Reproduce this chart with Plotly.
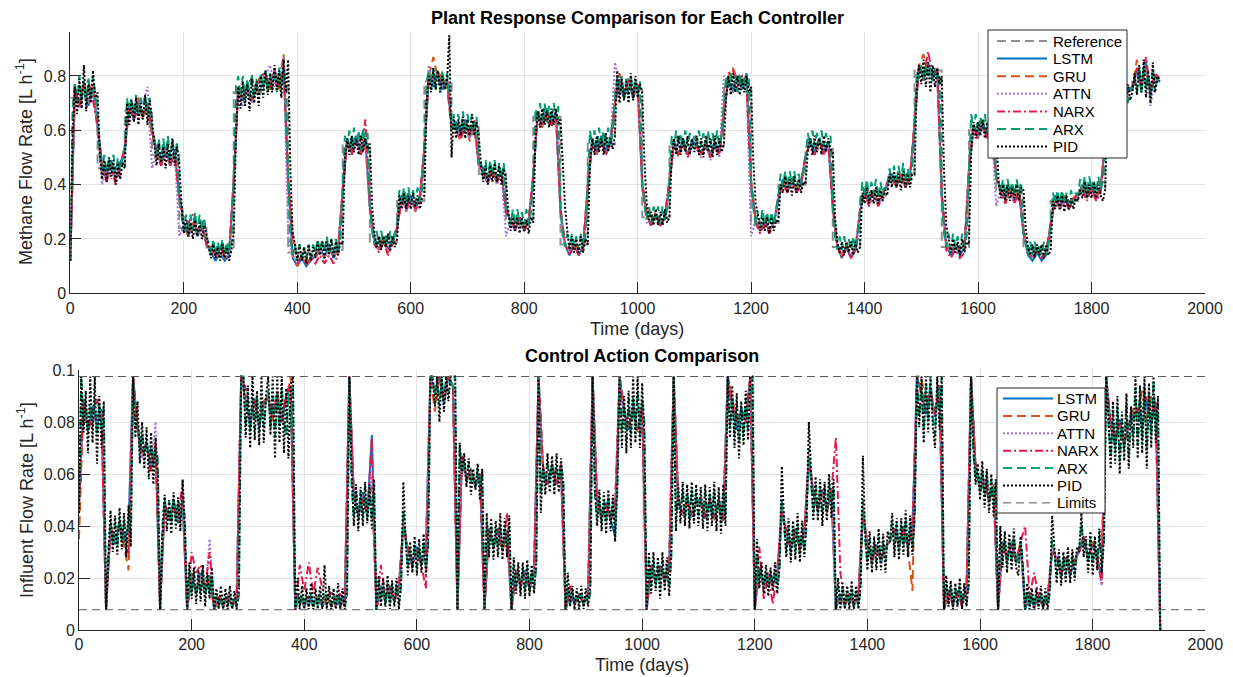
import plotly.graph_objects as go

# ---------------- sampling grids (days) ----------------
days_4 = list(range(0, 1921, 4))
days_8 = list(range(0, 1921, 8))

# ---------------- reference set-point (48-day blocks) ----------------
ref_days = list(range(0, 1921, 48))
ref_levels = [0.72, 0.46, 0.67, 0.51, 0.24, 0.155, 0.74, 0.78, 0.15, 0.16,
              0.55, 0.19, 0.34, 0.78, 0.61, 0.44, 0.26, 0.65, 0.18, 0.55,
              0.75, 0.28, 0.54, 0.54, 0.77, 0.26, 0.40, 0.54, 0.17, 0.36,
              0.42, 0.82, 0.17, 0.60, 0.37, 0.16, 0.34, 0.38, 0.74, 0.78, 0.78]

# ---------------- plant response (methane flow, L/h) ----------------
pid_top = [
    0.12, 0.58, 0.76, 0.66, 0.79, 0.68, 0.84, 0.67, 0.77, 0.70, 0.82, 0.72,
    0.74, 0.52, 0.42, 0.49, 0.41, 0.50, 0.43, 0.49, 0.40, 0.48, 0.42, 0.48,
    0.46, 0.70, 0.62, 0.71, 0.63, 0.72, 0.62, 0.70, 0.64, 0.73, 0.62, 0.71,
    0.64, 0.54, 0.47, 0.55, 0.48, 0.54, 0.46, 0.55, 0.48, 0.57, 0.47, 0.54,
    0.48, 0.33, 0.22, 0.27, 0.21, 0.26, 0.20, 0.27, 0.21, 0.26, 0.20, 0.25,
    0.22, 0.17, 0.13, 0.18, 0.13, 0.17, 0.12, 0.18, 0.13, 0.17, 0.12, 0.16,
    0.22, 0.58, 0.76, 0.68, 0.78, 0.69, 0.77, 0.67, 0.79, 0.70, 0.78, 0.69,
    0.80, 0.72, 0.82, 0.73, 0.81, 0.74, 0.84, 0.75, 0.82, 0.72, 0.86, 0.74,
    0.86, 0.45, 0.22, 0.18, 0.12, 0.18, 0.12, 0.17, 0.11, 0.18, 0.12, 0.17,
    0.13, 0.19, 0.14, 0.19, 0.13, 0.19, 0.14, 0.20, 0.13, 0.19, 0.14, 0.19,
    0.18, 0.50, 0.57, 0.51, 0.58, 0.52, 0.57, 0.51, 0.58, 0.52, 0.57, 0.53,
    0.55, 0.32, 0.22, 0.17, 0.21, 0.16, 0.21, 0.17, 0.22, 0.16, 0.21, 0.17,
    0.20, 0.36, 0.31, 0.37, 0.31, 0.36, 0.31, 0.37, 0.32, 0.36, 0.31, 0.35,
    0.36, 0.70, 0.80, 0.74, 0.83, 0.75, 0.82, 0.74, 0.80, 0.75, 0.78, 0.95,
    0.50, 0.65, 0.57, 0.64, 0.58, 0.65, 0.57, 0.64, 0.58, 0.66, 0.58, 0.63,
    0.58, 0.47, 0.41, 0.47, 0.40, 0.47, 0.41, 0.48, 0.41, 0.47, 0.40, 0.46,
    0.42, 0.30, 0.23, 0.28, 0.23, 0.28, 0.22, 0.28, 0.23, 0.27, 0.22, 0.28,
    0.26, 0.58, 0.67, 0.61, 0.68, 0.62, 0.67, 0.61, 0.68, 0.62, 0.68, 0.62,
    0.64, 0.48, 0.32, 0.23, 0.16, 0.21, 0.15, 0.20, 0.15, 0.21, 0.15, 0.20,
    0.18, 0.48, 0.57, 0.51, 0.58, 0.52, 0.57, 0.51, 0.59, 0.52, 0.57, 0.53,
    0.58, 0.82, 0.70, 0.79, 0.71, 0.78, 0.70, 0.81, 0.71, 0.80, 0.72, 0.77,
    0.74, 0.48, 0.33, 0.27, 0.30, 0.25, 0.31, 0.25, 0.30, 0.25, 0.31, 0.26,
    0.28, 0.50, 0.57, 0.51, 0.58, 0.51, 0.57, 0.52, 0.58, 0.51, 0.57, 0.52,
    0.58, 0.51, 0.57, 0.50, 0.58, 0.52, 0.57, 0.50, 0.58, 0.51, 0.57, 0.52,
    0.55, 0.72, 0.80, 0.73, 0.81, 0.74, 0.80, 0.73, 0.79, 0.74, 0.80, 0.74,
    0.76, 0.48, 0.33, 0.29, 0.23, 0.28, 0.23, 0.28, 0.22, 0.28, 0.23, 0.27,
    0.26, 0.40, 0.37, 0.43, 0.37, 0.42, 0.36, 0.43, 0.37, 0.42, 0.37, 0.41,
    0.40, 0.53, 0.57, 0.51, 0.58, 0.52, 0.57, 0.51, 0.58, 0.52, 0.57, 0.53,
    0.52, 0.28, 0.19, 0.15, 0.19, 0.14, 0.19, 0.15, 0.19, 0.14, 0.19, 0.15,
    0.17, 0.37, 0.33, 0.39, 0.33, 0.38, 0.33, 0.39, 0.33, 0.38, 0.34, 0.38,
    0.36, 0.44, 0.39, 0.45, 0.39, 0.44, 0.38, 0.45, 0.39, 0.44, 0.39, 0.44,
    0.44, 0.76, 0.84, 0.77, 0.86, 0.76, 0.85, 0.74, 0.84, 0.76, 0.83, 0.77,
    0.80, 0.45, 0.25, 0.20, 0.15, 0.20, 0.15, 0.19, 0.14, 0.20, 0.15, 0.19,
    0.18, 0.52, 0.63, 0.57, 0.63, 0.58, 0.64, 0.57, 0.63, 0.58, 0.62, 0.58,
    0.60, 0.42, 0.35, 0.40, 0.34, 0.40, 0.34, 0.39, 0.35, 0.40, 0.34, 0.39,
    0.38, 0.24, 0.17, 0.14, 0.18, 0.13, 0.18, 0.14, 0.18, 0.13, 0.18, 0.14,
    0.16, 0.34, 0.31, 0.36, 0.31, 0.36, 0.30, 0.36, 0.31, 0.35, 0.31, 0.35,
    0.34, 0.38, 0.35, 0.41, 0.35, 0.40, 0.35, 0.41, 0.35, 0.40, 0.36, 0.34,
    0.38, 0.66, 0.76, 0.70, 0.77, 0.69, 0.78, 0.70, 0.76, 0.69, 0.77, 0.71,
    0.74, 0.81, 0.73, 0.84, 0.74, 0.86, 0.72, 0.82, 0.70, 0.85, 0.74, 0.80,
    0.78]

arx_top = [
    0.12, 0.68, 0.78, 0.70, 0.80, 0.71, 0.78, 0.69, 0.79, 0.71, 0.80, 0.72,
    0.66, 0.50, 0.45, 0.51, 0.44, 0.50, 0.45, 0.51, 0.44, 0.50, 0.45, 0.50,
    0.54, 0.72, 0.65, 0.72, 0.66, 0.73, 0.65, 0.72, 0.66, 0.73, 0.66, 0.72,
    0.60, 0.57, 0.50, 0.57, 0.49, 0.57, 0.50, 0.58, 0.50, 0.57, 0.49, 0.56,
    0.36, 0.29, 0.23, 0.29, 0.22, 0.29, 0.23, 0.30, 0.22, 0.29, 0.23, 0.28,
    0.20, 0.19, 0.14, 0.20, 0.14, 0.19, 0.15, 0.20, 0.14, 0.19, 0.15, 0.19,
    0.42, 0.76, 0.80, 0.72, 0.80, 0.71, 0.79, 0.72, 0.81, 0.72, 0.79, 0.73,
    0.81, 0.75, 0.82, 0.74, 0.81, 0.75, 0.82, 0.74, 0.83, 0.75, 0.82, 0.76,
    0.42, 0.20, 0.14, 0.18, 0.12, 0.18, 0.13, 0.17, 0.12, 0.18, 0.13, 0.18,
    0.15, 0.20, 0.15, 0.20, 0.15, 0.21, 0.15, 0.20, 0.15, 0.20, 0.15, 0.20,
    0.38, 0.58, 0.54, 0.60, 0.53, 0.61, 0.54, 0.60, 0.53, 0.61, 0.54, 0.59,
    0.32, 0.23, 0.18, 0.23, 0.18, 0.23, 0.18, 0.22, 0.18, 0.23, 0.18, 0.22,
    0.26, 0.38, 0.33, 0.39, 0.33, 0.39, 0.33, 0.38, 0.33, 0.39, 0.34, 0.38,
    0.55, 0.78, 0.82, 0.75, 0.83, 0.75, 0.82, 0.74, 0.82, 0.75, 0.81, 0.75,
    0.60, 0.66, 0.59, 0.66, 0.59, 0.67, 0.59, 0.66, 0.60, 0.66, 0.59, 0.65,
    0.48, 0.48, 0.42, 0.49, 0.42, 0.49, 0.43, 0.49, 0.42, 0.48, 0.42, 0.48,
    0.32, 0.30, 0.25, 0.31, 0.25, 0.31, 0.25, 0.30, 0.25, 0.31, 0.25, 0.30,
    0.44, 0.68, 0.63, 0.70, 0.63, 0.70, 0.63, 0.69, 0.63, 0.70, 0.64, 0.69,
    0.32, 0.21, 0.17, 0.22, 0.16, 0.22, 0.17, 0.21, 0.16, 0.22, 0.17, 0.21,
    0.40, 0.60, 0.54, 0.60, 0.53, 0.61, 0.54, 0.60, 0.54, 0.61, 0.54, 0.59,
    0.72, 0.80, 0.73, 0.80, 0.72, 0.79, 0.73, 0.80, 0.72, 0.79, 0.73, 0.78,
    0.42, 0.32, 0.27, 0.32, 0.26, 0.32, 0.27, 0.32, 0.26, 0.32, 0.27, 0.31,
    0.42, 0.58, 0.54, 0.60, 0.54, 0.59, 0.53, 0.60, 0.54, 0.59, 0.54, 0.58,
    0.54, 0.60, 0.54, 0.59, 0.53, 0.60, 0.54, 0.59, 0.53, 0.60, 0.54, 0.59,
    0.70, 0.80, 0.75, 0.81, 0.75, 0.80, 0.74, 0.81, 0.75, 0.80, 0.74, 0.79,
    0.42, 0.31, 0.25, 0.30, 0.25, 0.31, 0.25, 0.30, 0.25, 0.30, 0.25, 0.30,
    0.36, 0.44, 0.39, 0.45, 0.39, 0.45, 0.40, 0.45, 0.39, 0.44, 0.39, 0.44,
    0.50, 0.59, 0.54, 0.60, 0.54, 0.59, 0.55, 0.60, 0.54, 0.59, 0.54, 0.58,
    0.30, 0.21, 0.16, 0.21, 0.16, 0.21, 0.16, 0.20, 0.16, 0.21, 0.16, 0.20,
    0.30, 0.41, 0.36, 0.42, 0.35, 0.41, 0.36, 0.42, 0.35, 0.41, 0.36, 0.40,
    0.40, 0.46, 0.41, 0.47, 0.40, 0.47, 0.41, 0.48, 0.41, 0.46, 0.41, 0.46,
    0.62, 0.82, 0.79, 0.84, 0.78, 0.84, 0.79, 0.83, 0.78, 0.83, 0.79, 0.81,
    0.36, 0.22, 0.17, 0.22, 0.16, 0.22, 0.17, 0.21, 0.16, 0.22, 0.17, 0.21,
    0.46, 0.66, 0.60, 0.66, 0.59, 0.65, 0.60, 0.66, 0.59, 0.65, 0.60, 0.64,
    0.42, 0.41, 0.37, 0.42, 0.36, 0.42, 0.37, 0.41, 0.36, 0.42, 0.37, 0.41,
    0.22, 0.19, 0.14, 0.19, 0.14, 0.19, 0.14, 0.18, 0.14, 0.19, 0.14, 0.18,
    0.26, 0.37, 0.33, 0.38, 0.33, 0.38, 0.33, 0.37, 0.33, 0.38, 0.33, 0.37,
    0.36, 0.42, 0.37, 0.43, 0.37, 0.43, 0.38, 0.42, 0.37, 0.43, 0.38, 0.41,
    0.55, 0.74, 0.70, 0.76, 0.70, 0.76, 0.70, 0.75, 0.69, 0.76, 0.70, 0.75,
    0.75, 0.79, 0.74, 0.83, 0.73, 0.84, 0.75, 0.81, 0.72, 0.83, 0.74, 0.79,
    0.77]

lstm_top = [
    0.12, 0.75, 0.70, 0.77, 0.69, 0.76,  0.62, 0.48, 0.43, 0.49, 0.42, 0.48,
    0.52, 0.70, 0.64, 0.71, 0.65, 0.70,  0.60, 0.53, 0.48, 0.54, 0.47, 0.53,
    0.36, 0.26, 0.21, 0.26, 0.21, 0.25,  0.18, 0.15, 0.12, 0.15, 0.12, 0.14,
    0.40, 0.76, 0.71, 0.77, 0.71, 0.76,  0.80, 0.81, 0.75, 0.82, 0.76, 0.83,
    0.42, 0.13, 0.10, 0.13, 0.10, 0.12,  0.14, 0.17, 0.13, 0.18, 0.13, 0.17,
    0.36, 0.57, 0.52, 0.58, 0.52, 0.57,  0.32, 0.20, 0.16, 0.21, 0.16, 0.20,
    0.24, 0.36, 0.32, 0.36, 0.31, 0.36,  0.52, 0.80, 0.76, 0.81, 0.75, 0.79,
    0.62, 0.63, 0.58, 0.64, 0.58, 0.63,  0.48, 0.46, 0.41, 0.46, 0.41, 0.45,
    0.30, 0.27, 0.23, 0.28, 0.23, 0.27,  0.42, 0.67, 0.62, 0.68, 0.62, 0.67,
    0.30, 0.18, 0.14, 0.18, 0.14, 0.17,  0.38, 0.57, 0.52, 0.58, 0.52, 0.57,
    0.70, 0.78, 0.72, 0.79, 0.72, 0.77,  0.40, 0.29, 0.25, 0.29, 0.25, 0.28,
    0.40, 0.56, 0.51, 0.57, 0.51, 0.56,  0.55, 0.51, 0.56, 0.51, 0.56, 0.52,
    0.66, 0.79, 0.74, 0.80, 0.75, 0.81,  0.40, 0.27, 0.23, 0.27, 0.23, 0.26,
    0.34, 0.42, 0.38, 0.42, 0.37, 0.41,  0.50, 0.56, 0.52, 0.57, 0.52, 0.56,
    0.32, 0.17, 0.13, 0.17, 0.13, 0.16,  0.30, 0.38, 0.34, 0.38, 0.33, 0.37,
    0.40, 0.44, 0.40, 0.44, 0.39, 0.43,  0.62, 0.84, 0.79, 0.85, 0.79, 0.82,
    0.36, 0.18, 0.14, 0.18, 0.14, 0.17,  0.45, 0.62, 0.58, 0.63, 0.58, 0.62,
    0.42, 0.39, 0.35, 0.39, 0.34, 0.38,  0.22, 0.14, 0.12, 0.15, 0.12, 0.14,
    0.24, 0.36, 0.32, 0.36, 0.31, 0.35,  0.36, 0.40, 0.36, 0.40, 0.35, 0.39,
    0.55, 0.75, 0.71, 0.76, 0.71, 0.75,  0.76, 0.82, 0.75, 0.85, 0.73, 0.80,
    0.78]

gru_top = [
    0.12, 0.74, 0.69, 0.78, 0.70, 0.77,  0.60, 0.47, 0.41, 0.48, 0.42, 0.47,
    0.54, 0.69, 0.65, 0.72, 0.64, 0.69,  0.58, 0.52, 0.47, 0.53, 0.47, 0.52,
    0.34, 0.25, 0.21, 0.26, 0.21, 0.25,  0.18, 0.16, 0.13, 0.16, 0.13, 0.15,
    0.42, 0.76, 0.71, 0.78, 0.70, 0.77,  0.80, 0.79, 0.75, 0.81, 0.75, 0.88,
    0.44, 0.14, 0.10, 0.14, 0.10, 0.13,  0.13, 0.16, 0.13, 0.17, 0.13, 0.16,
    0.38, 0.55, 0.51, 0.56, 0.51, 0.55,  0.32, 0.19, 0.16, 0.20, 0.15, 0.19,
    0.24, 0.34, 0.30, 0.35, 0.30, 0.34,  0.54, 0.80, 0.87, 0.79, 0.81, 0.76,
    0.60, 0.60, 0.56, 0.63, 0.56, 0.61,  0.47, 0.45, 0.41, 0.46, 0.41, 0.45,
    0.31, 0.27, 0.23, 0.28, 0.23, 0.27,  0.44, 0.66, 0.61, 0.67, 0.61, 0.66,
    0.31, 0.18, 0.15, 0.19, 0.15, 0.18,  0.40, 0.55, 0.51, 0.56, 0.51, 0.55,
    0.70, 0.81, 0.73, 0.79, 0.72, 0.77,  0.41, 0.29, 0.25, 0.30, 0.25, 0.28,
    0.42, 0.55, 0.50, 0.56, 0.51, 0.54,  0.54, 0.50, 0.55, 0.50, 0.55, 0.51,
    0.66, 0.80, 0.83, 0.78, 0.80, 0.76,  0.41, 0.27, 0.23, 0.27, 0.23, 0.26,
    0.36, 0.41, 0.37, 0.42, 0.37, 0.41,  0.51, 0.55, 0.51, 0.56, 0.51, 0.55,
    0.32, 0.18, 0.14, 0.18, 0.14, 0.17,  0.31, 0.37, 0.33, 0.38, 0.33, 0.37,
    0.41, 0.43, 0.39, 0.44, 0.39, 0.43,  0.63, 0.84, 0.88, 0.80, 0.83, 0.80,
    0.37, 0.18, 0.15, 0.19, 0.15, 0.18,  0.46, 0.61, 0.57, 0.62, 0.57, 0.61,
    0.43, 0.38, 0.34, 0.39, 0.34, 0.38,  0.23, 0.15, 0.13, 0.16, 0.13, 0.15,
    0.26, 0.35, 0.31, 0.36, 0.31, 0.35,  0.37, 0.39, 0.35, 0.40, 0.35, 0.39,
    0.56, 0.74, 0.70, 0.77, 0.71, 0.74,  0.75, 0.86, 0.76, 0.83, 0.74, 0.81,
    0.79]

attn_top = [
    0.12, 0.72, 0.68, 0.76, 0.70, 0.75,  0.60, 0.40, 0.46, 0.42, 0.47, 0.43,
    0.52, 0.69, 0.65, 0.71, 0.70, 0.76,  0.46, 0.52, 0.47, 0.53, 0.47, 0.52,
    0.21, 0.25, 0.21, 0.25, 0.21, 0.24,  0.18, 0.16, 0.13, 0.16, 0.13, 0.15,
    0.42, 0.74, 0.69, 0.75, 0.70, 0.75,  0.79, 0.80, 0.84, 0.76, 0.81, 0.87,
    0.20, 0.14, 0.11, 0.14, 0.11, 0.13,  0.14, 0.17, 0.13, 0.17, 0.14, 0.16,
    0.38, 0.56, 0.51, 0.57, 0.51, 0.56,  0.31, 0.18, 0.16, 0.19, 0.16, 0.18,
    0.24, 0.35, 0.30, 0.35, 0.30, 0.34,  0.54, 0.84, 0.77, 0.81, 0.76, 0.79,
    0.61, 0.62, 0.57, 0.62, 0.57, 0.61,  0.47, 0.44, 0.40, 0.45, 0.40, 0.44,
    0.21, 0.27, 0.23, 0.27, 0.23, 0.26,  0.44, 0.66, 0.62, 0.66, 0.62, 0.65,
    0.30, 0.18, 0.15, 0.18, 0.15, 0.17,  0.40, 0.56, 0.51, 0.56, 0.51, 0.55,
    0.85, 0.77, 0.72, 0.78, 0.72, 0.76,  0.40, 0.26, 0.25, 0.28, 0.25, 0.27,
    0.41, 0.55, 0.51, 0.56, 0.51, 0.54,  0.53, 0.50, 0.55, 0.49, 0.55, 0.50,
    0.80, 0.78, 0.74, 0.79, 0.75, 0.77,  0.21, 0.27, 0.23, 0.27, 0.23, 0.26,
    0.35, 0.41, 0.37, 0.42, 0.37, 0.40,  0.50, 0.55, 0.51, 0.56, 0.51, 0.55,
    0.30, 0.17, 0.14, 0.17, 0.14, 0.17,  0.30, 0.37, 0.33, 0.37, 0.32, 0.36,
    0.40, 0.42, 0.39, 0.43, 0.39, 0.42,  0.62, 0.83, 0.79, 0.84, 0.79, 0.82,
    0.35, 0.18, 0.15, 0.18, 0.15, 0.17,  0.45, 0.61, 0.57, 0.62, 0.57, 0.60,
    0.32, 0.38, 0.34, 0.38, 0.33, 0.37,  0.22, 0.15, 0.13, 0.16, 0.13, 0.15,
    0.25, 0.35, 0.31, 0.33, 0.31, 0.34,  0.36, 0.39, 0.35, 0.39, 0.34, 0.37,
    0.55, 0.74, 0.71, 0.75, 0.70, 0.74,  0.75, 0.81, 0.75, 0.83, 0.69, 0.79,
    0.77]

narx_top = [
    0.12, 0.76, 0.69, 0.77, 0.78, 0.71,  0.62, 0.46, 0.41, 0.47, 0.40, 0.46,
    0.54, 0.68, 0.64, 0.69, 0.65, 0.69,  0.60, 0.51, 0.47, 0.52, 0.47, 0.51,
    0.36, 0.28, 0.26, 0.29, 0.22, 0.27,  0.18, 0.17, 0.14, 0.17, 0.14, 0.16,
    0.42, 0.76, 0.72, 0.77, 0.79, 0.74,  0.80, 0.81, 0.76, 0.82, 0.76, 0.83,
    0.42, 0.22, 0.11, 0.14, 0.11, 0.13,  0.11, 0.14, 0.11, 0.14, 0.11, 0.14,
    0.38, 0.56, 0.51, 0.57, 0.51, 0.64,  0.32, 0.18, 0.15, 0.19, 0.14, 0.18,
    0.24, 0.35, 0.31, 0.35, 0.31, 0.34,  0.54, 0.81, 0.77, 0.82, 0.77, 0.79,
    0.61, 0.61, 0.57, 0.62, 0.58, 0.64,  0.47, 0.45, 0.41, 0.45, 0.41, 0.44,
    0.30, 0.28, 0.24, 0.28, 0.23, 0.27,  0.44, 0.67, 0.62, 0.67, 0.62, 0.66,
    0.31, 0.18, 0.14, 0.18, 0.14, 0.17,  0.40, 0.55, 0.52, 0.56, 0.51, 0.55,
    0.70, 0.79, 0.73, 0.79, 0.73, 0.77,  0.41, 0.28, 0.25, 0.29, 0.25, 0.28,
    0.42, 0.54, 0.51, 0.55, 0.50, 0.54,  0.54, 0.51, 0.55, 0.50, 0.54, 0.51,
    0.66, 0.81, 0.82, 0.76, 0.80, 0.76,  0.41, 0.26, 0.22, 0.26, 0.22, 0.25,
    0.36, 0.41, 0.37, 0.42, 0.37, 0.40,  0.51, 0.55, 0.51, 0.56, 0.51, 0.55,
    0.32, 0.17, 0.13, 0.17, 0.13, 0.16,  0.31, 0.37, 0.32, 0.37, 0.32, 0.36,
    0.41, 0.43, 0.39, 0.44, 0.39, 0.42,  0.63, 0.84, 0.80, 0.89, 0.80, 0.83,
    0.37, 0.16, 0.13, 0.16, 0.13, 0.15,  0.46, 0.62, 0.57, 0.63, 0.57, 0.61,
    0.43, 0.37, 0.33, 0.38, 0.33, 0.37,  0.23, 0.16, 0.13, 0.16, 0.13, 0.15,
    0.26, 0.35, 0.31, 0.36, 0.31, 0.34,  0.37, 0.38, 0.34, 0.39, 0.34, 0.37,
    0.56, 0.75, 0.71, 0.76, 0.71, 0.74,  0.76, 0.83, 0.76, 0.87, 0.74, 0.81,
    0.79]

# ---------------- control action (influent flow, L/h) ----------------
limit_upper = 0.0975
limit_lower = 0.0078

pid_bot = [
    0.045, 0.0975, 0.076, 0.092, 0.068, 0.0975, 0.072, 0.0975, 0.064, 0.090, 0.070, 0.088,
    0.0078, 0.028, 0.046, 0.030, 0.044, 0.029, 0.047, 0.031, 0.045, 0.028, 0.048, 0.032,
    0.0975, 0.074, 0.088, 0.064, 0.080, 0.062, 0.078, 0.058, 0.076, 0.056, 0.074, 0.060,
    0.0078, 0.036, 0.052, 0.038, 0.050, 0.037, 0.053, 0.039, 0.051, 0.038, 0.058, 0.040,
    0.0078, 0.026, 0.012, 0.024, 0.010, 0.023, 0.011, 0.025, 0.009, 0.022, 0.012, 0.024,
    0.0078, 0.016, 0.008, 0.017, 0.008, 0.016, 0.008, 0.017, 0.008, 0.015, 0.008, 0.016,
    0.0975, 0.0975, 0.074, 0.094, 0.070, 0.0975, 0.073, 0.092, 0.071, 0.0975, 0.072, 0.090,
    0.0975, 0.075, 0.0975, 0.066, 0.0975, 0.072, 0.0975, 0.068, 0.093, 0.066, 0.094, 0.0975,
    0.0078, 0.020, 0.008, 0.017, 0.008, 0.016, 0.008, 0.018, 0.008, 0.016, 0.008, 0.017,
    0.008, 0.025, 0.008, 0.017, 0.008, 0.016, 0.008, 0.018, 0.008, 0.016, 0.008, 0.015,
    0.0975, 0.062, 0.040, 0.056, 0.038, 0.055, 0.040, 0.057, 0.041, 0.056, 0.039, 0.058,
    0.0078, 0.021, 0.009, 0.020, 0.009, 0.021, 0.008, 0.019, 0.009, 0.020, 0.008, 0.018,
    0.057, 0.035, 0.021, 0.034, 0.022, 0.036, 0.021, 0.035, 0.022, 0.037, 0.021, 0.034,
    0.0975, 0.0975, 0.086, 0.0975, 0.080, 0.0975, 0.084, 0.0975, 0.088, 0.0975, 0.0975, 0.0975,
    0.0078, 0.072, 0.060, 0.068, 0.055, 0.066, 0.052, 0.062, 0.054, 0.064, 0.050, 0.062,
    0.0078, 0.045, 0.028, 0.043, 0.027, 0.042, 0.028, 0.045, 0.027, 0.043, 0.028, 0.044,
    0.0078, 0.028, 0.014, 0.026, 0.013, 0.026, 0.012, 0.027, 0.013, 0.025, 0.014, 0.026,
    0.0975, 0.045, 0.064, 0.052, 0.068, 0.053, 0.067, 0.052, 0.068, 0.053, 0.066, 0.055,
    0.0078, 0.022, 0.009, 0.017, 0.008, 0.016, 0.008, 0.017, 0.008, 0.016, 0.009, 0.017,
    0.0975, 0.055, 0.040, 0.054, 0.038, 0.053, 0.037, 0.054, 0.038, 0.052, 0.034, 0.056,
    0.0975, 0.070, 0.090, 0.068, 0.092, 0.070, 0.0975, 0.072, 0.0975, 0.070, 0.095, 0.075,
    0.0078, 0.030, 0.014, 0.030, 0.015, 0.028, 0.012, 0.030, 0.015, 0.028, 0.013, 0.032,
    0.0975, 0.038, 0.056, 0.041, 0.057, 0.040, 0.056, 0.039, 0.057, 0.041, 0.056, 0.040,
    0.055, 0.039, 0.056, 0.038, 0.055, 0.040, 0.057, 0.038, 0.055, 0.037, 0.056, 0.040,
    0.0975, 0.074, 0.094, 0.070, 0.091, 0.066, 0.088, 0.071, 0.092, 0.073, 0.0975, 0.0975,
    0.0078, 0.035, 0.016, 0.026, 0.014, 0.025, 0.013, 0.024, 0.015, 0.026, 0.014, 0.025,
    0.063, 0.042, 0.028, 0.043, 0.026, 0.042, 0.027, 0.045, 0.026, 0.042, 0.028, 0.043,
    0.080, 0.058, 0.042, 0.059, 0.042, 0.058, 0.040, 0.057, 0.042, 0.060, 0.043, 0.058,
    0.0078, 0.020, 0.008, 0.018, 0.008, 0.017, 0.008, 0.019, 0.008, 0.017, 0.008, 0.018,
    0.067, 0.037, 0.023, 0.038, 0.022, 0.036, 0.023, 0.039, 0.023, 0.037, 0.022, 0.038,
    0.034, 0.045, 0.028, 0.043, 0.027, 0.043, 0.029, 0.046, 0.028, 0.044, 0.029, 0.046,
    0.0975, 0.078, 0.0975, 0.072, 0.0975, 0.076, 0.0975, 0.079, 0.070, 0.0975, 0.077, 0.0975,
    0.0078, 0.021, 0.009, 0.019, 0.008, 0.018, 0.009, 0.020, 0.008, 0.018, 0.009, 0.019,
    0.0975, 0.072, 0.056, 0.064, 0.050, 0.065, 0.047, 0.062, 0.045, 0.060, 0.044, 0.058,
    0.0078, 0.040, 0.024, 0.038, 0.022, 0.037, 0.023, 0.039, 0.024, 0.021, 0.036, 0.024,
    0.0078, 0.018, 0.008, 0.016, 0.008, 0.016, 0.008, 0.017, 0.008, 0.016, 0.008, 0.016,
    0.044, 0.032, 0.018, 0.031, 0.017, 0.030, 0.018, 0.032, 0.018, 0.031, 0.019, 0.032,
    0.030, 0.045, 0.028, 0.036, 0.022, 0.038, 0.021, 0.036, 0.023, 0.039, 0.022, 0.035,
    0.0975, 0.082, 0.062, 0.088, 0.064, 0.090, 0.060, 0.084, 0.065, 0.091, 0.062, 0.086,
    0.070, 0.0975, 0.066, 0.094, 0.068, 0.0975, 0.062, 0.095, 0.070, 0.0975, 0.072, 0.090,
    0.0]

arx_bot = [
    0.045, 0.0975, 0.080, 0.088, 0.076, 0.086, 0.078, 0.089, 0.075, 0.087, 0.077, 0.085,
    0.0078, 0.031, 0.042, 0.033, 0.041, 0.032, 0.043, 0.034, 0.042, 0.032, 0.044, 0.035,
    0.0975, 0.078, 0.080, 0.069, 0.076, 0.067, 0.073, 0.064, 0.071, 0.063, 0.070, 0.066,
    0.0078, 0.040, 0.051, 0.042, 0.050, 0.041, 0.051, 0.042, 0.050, 0.041, 0.050, 0.043,
    0.0078, 0.023, 0.014, 0.022, 0.013, 0.021, 0.014, 0.022, 0.013, 0.021, 0.014, 0.021,
    0.0078, 0.013, 0.009, 0.013, 0.009, 0.013, 0.009, 0.014, 0.009, 0.013, 0.009, 0.013,
    0.0975, 0.0975, 0.078, 0.090, 0.076, 0.089, 0.077, 0.090, 0.076, 0.088, 0.078, 0.088,
    0.092, 0.077, 0.090, 0.074, 0.091, 0.078, 0.093, 0.080, 0.075, 0.091, 0.077, 0.094,
    0.0078, 0.014, 0.009, 0.014, 0.009, 0.013, 0.009, 0.014, 0.009, 0.013, 0.009, 0.014,
    0.009, 0.014, 0.009, 0.014, 0.009, 0.013, 0.009, 0.014, 0.009, 0.013, 0.009, 0.013,
    0.0975, 0.056, 0.043, 0.054, 0.042, 0.053, 0.043, 0.055, 0.043, 0.054, 0.042, 0.056,
    0.0078, 0.018, 0.011, 0.017, 0.010, 0.018, 0.010, 0.017, 0.011, 0.018, 0.010, 0.017,
    0.046, 0.033, 0.024, 0.032, 0.024, 0.033, 0.024, 0.032, 0.025, 0.034, 0.024, 0.032,
    0.0975, 0.0975, 0.090, 0.0975, 0.086, 0.0975, 0.088, 0.0975, 0.091, 0.0975, 0.093, 0.0975,
    0.0078, 0.070, 0.062, 0.066, 0.058, 0.064, 0.056, 0.060, 0.056, 0.062, 0.055, 0.061,
    0.0078, 0.041, 0.032, 0.040, 0.031, 0.039, 0.031, 0.041, 0.030, 0.039, 0.032, 0.040,
    0.0078, 0.025, 0.016, 0.024, 0.015, 0.024, 0.015, 0.025, 0.015, 0.023, 0.016, 0.024,
    0.0975, 0.052, 0.062, 0.056, 0.064, 0.057, 0.064, 0.056, 0.063, 0.057, 0.063, 0.058,
    0.0078, 0.017, 0.010, 0.015, 0.010, 0.014, 0.010, 0.014, 0.010, 0.014, 0.010, 0.014,
    0.0975, 0.052, 0.043, 0.051, 0.041, 0.050, 0.041, 0.052, 0.042, 0.050, 0.040, 0.053,
    0.0975, 0.076, 0.087, 0.073, 0.089, 0.075, 0.090, 0.077, 0.092, 0.075, 0.089, 0.080,
    0.0078, 0.027, 0.017, 0.027, 0.017, 0.025, 0.016, 0.027, 0.018, 0.025, 0.016, 0.028,
    0.0975, 0.042, 0.053, 0.044, 0.054, 0.043, 0.053, 0.042, 0.054, 0.044, 0.053, 0.044,
    0.052, 0.043, 0.053, 0.042, 0.052, 0.043, 0.054, 0.042, 0.052, 0.041, 0.053, 0.044,
    0.0975, 0.078, 0.090, 0.075, 0.088, 0.072, 0.086, 0.075, 0.089, 0.077, 0.092, 0.0975,
    0.0078, 0.029, 0.019, 0.023, 0.017, 0.023, 0.017, 0.022, 0.018, 0.023, 0.017, 0.023,
    0.050, 0.040, 0.030, 0.040, 0.029, 0.039, 0.030, 0.041, 0.029, 0.039, 0.030, 0.040,
    0.070, 0.056, 0.045, 0.056, 0.045, 0.055, 0.044, 0.055, 0.045, 0.057, 0.046, 0.055,
    0.0078, 0.017, 0.009, 0.016, 0.009, 0.015, 0.009, 0.016, 0.009, 0.015, 0.009, 0.016,
    0.050, 0.035, 0.026, 0.035, 0.025, 0.034, 0.026, 0.036, 0.026, 0.034, 0.026, 0.035,
    0.034, 0.042, 0.031, 0.041, 0.030, 0.040, 0.032, 0.043, 0.031, 0.041, 0.032, 0.042,
    0.0975, 0.082, 0.093, 0.077, 0.095, 0.080, 0.0975, 0.082, 0.075, 0.094, 0.081, 0.0975,
    0.0078, 0.018, 0.010, 0.017, 0.010, 0.016, 0.010, 0.017, 0.010, 0.016, 0.010, 0.017,
    0.0975, 0.068, 0.058, 0.062, 0.053, 0.062, 0.051, 0.060, 0.049, 0.058, 0.048, 0.057,
    0.0078, 0.037, 0.027, 0.035, 0.025, 0.034, 0.026, 0.036, 0.027, 0.025, 0.034, 0.027,
    0.0078, 0.015, 0.009, 0.014, 0.009, 0.014, 0.009, 0.015, 0.009, 0.014, 0.009, 0.014,
    0.035, 0.030, 0.021, 0.029, 0.020, 0.028, 0.021, 0.029, 0.021, 0.029, 0.021, 0.029,
    0.031, 0.041, 0.031, 0.034, 0.026, 0.036, 0.025, 0.034, 0.027, 0.036, 0.025, 0.033,
    0.0975, 0.079, 0.066, 0.084, 0.068, 0.086, 0.065, 0.081, 0.069, 0.087, 0.066, 0.083,
    0.074, 0.093, 0.071, 0.090, 0.073, 0.094, 0.069, 0.091, 0.074, 0.096, 0.077, 0.087,
    0.0]

lstm_bot = [
    0.050, 0.088, 0.077, 0.086, 0.079, 0.085,  0.0078, 0.040, 0.033, 0.041, 0.034, 0.040,
    0.0975, 0.078, 0.068, 0.072, 0.063, 0.070,  0.0078, 0.049, 0.042, 0.050, 0.041, 0.049,
    0.0078, 0.021, 0.015, 0.022, 0.014, 0.021,  0.0078, 0.012, 0.009, 0.013, 0.009, 0.012,
    0.0975, 0.088, 0.079, 0.089, 0.078, 0.087,  0.089, 0.081, 0.091, 0.080, 0.090, 0.093,
    0.0078, 0.013, 0.009, 0.013, 0.009, 0.013,  0.009, 0.013, 0.009, 0.013, 0.009, 0.013,
    0.0975, 0.052, 0.044, 0.053, 0.044, 0.075,  0.0078, 0.017, 0.011, 0.017, 0.011, 0.016,
    0.040, 0.031, 0.025, 0.032, 0.025, 0.031,  0.0975, 0.092, 0.0975, 0.087, 0.0975, 0.094,
    0.0078, 0.067, 0.058, 0.062, 0.055, 0.060,  0.0078, 0.039, 0.032, 0.039, 0.031, 0.038,
    0.0078, 0.023, 0.017, 0.023, 0.016, 0.022,  0.0975, 0.062, 0.056, 0.062, 0.056, 0.061,
    0.0078, 0.014, 0.010, 0.014, 0.010, 0.013,  0.0975, 0.050, 0.043, 0.049, 0.043, 0.036,
    0.0975, 0.084, 0.077, 0.086, 0.077, 0.086,  0.0078, 0.024, 0.019, 0.024, 0.019, 0.023,
    0.0975, 0.050, 0.044, 0.051, 0.044, 0.050,  0.050, 0.043, 0.051, 0.043, 0.050, 0.044,
    0.0975, 0.086, 0.077, 0.085, 0.081, 0.0975,  0.0078, 0.024, 0.017, 0.022, 0.017, 0.022,
    0.045, 0.038, 0.031, 0.039, 0.031, 0.038,  0.065, 0.053, 0.046, 0.054, 0.046, 0.053,
    0.0078, 0.014, 0.010, 0.014, 0.010, 0.013,  0.045, 0.033, 0.027, 0.033, 0.026, 0.032,
    0.034, 0.039, 0.032, 0.040, 0.032, 0.039,  0.0975, 0.091, 0.083, 0.093, 0.082, 0.094,
    0.0078, 0.015, 0.010, 0.015, 0.010, 0.015,  0.0975, 0.063, 0.054, 0.058, 0.050, 0.055,
    0.0078, 0.034, 0.027, 0.034, 0.026, 0.033,  0.0078, 0.013, 0.009, 0.012, 0.009, 0.012,
    0.030, 0.028, 0.021, 0.028, 0.021, 0.027,  0.030, 0.036, 0.028, 0.033, 0.028, 0.020,
    0.0975, 0.078, 0.071, 0.081, 0.071, 0.079,  0.082, 0.084, 0.078, 0.088, 0.079, 0.087,
    0.0]

gru_bot = [
    0.035, 0.087, 0.078, 0.081, 0.082, 0.084,  0.0078, 0.040, 0.034, 0.042, 0.032, 0.023,
    0.0975, 0.079, 0.067, 0.071, 0.062, 0.072,  0.0078, 0.048, 0.042, 0.048, 0.042, 0.050,
    0.0078, 0.022, 0.014, 0.021, 0.014, 0.021,  0.0078, 0.013, 0.009, 0.013, 0.009, 0.013,
    0.0975, 0.087, 0.080, 0.088, 0.079, 0.088,  0.090, 0.080, 0.092, 0.081, 0.089, 0.0975,
    0.0078, 0.013, 0.009, 0.013, 0.009, 0.013,  0.009, 0.013, 0.009, 0.013, 0.009, 0.013,
    0.0975, 0.051, 0.045, 0.050, 0.045, 0.055,  0.0078, 0.016, 0.011, 0.016, 0.011, 0.016,
    0.042, 0.031, 0.026, 0.030, 0.025, 0.030,  0.0975, 0.084, 0.0975, 0.089, 0.0975, 0.093,
    0.0078, 0.066, 0.057, 0.061, 0.057, 0.059,  0.0078, 0.038, 0.033, 0.038, 0.030, 0.038,
    0.0078, 0.022, 0.017, 0.022, 0.015, 0.023,  0.0975, 0.061, 0.058, 0.062, 0.057, 0.061,
    0.0078, 0.013, 0.010, 0.014, 0.010, 0.014,  0.0975, 0.049, 0.044, 0.048, 0.043, 0.047,
    0.0975, 0.085, 0.078, 0.085, 0.076, 0.086,  0.0078, 0.025, 0.018, 0.024, 0.019, 0.023,
    0.0975, 0.051, 0.044, 0.049, 0.044, 0.049,  0.049, 0.044, 0.049, 0.042, 0.050, 0.042,
    0.0975, 0.089, 0.081, 0.084, 0.080, 0.0975,  0.0078, 0.023, 0.018, 0.022, 0.017, 0.023,
    0.046, 0.037, 0.032, 0.038, 0.030, 0.039,  0.066, 0.052, 0.047, 0.053, 0.045, 0.054,
    0.0078, 0.014, 0.009, 0.014, 0.009, 0.014,  0.046, 0.032, 0.027, 0.032, 0.027, 0.032,
    0.034, 0.038, 0.033, 0.039, 0.031, 0.015,  0.0975, 0.0975, 0.084, 0.092, 0.083, 0.094,
    0.0078, 0.014, 0.011, 0.014, 0.011, 0.014,  0.0975, 0.064, 0.053, 0.058, 0.049, 0.056,
    0.0078, 0.033, 0.028, 0.033, 0.026, 0.034,  0.0078, 0.012, 0.009, 0.013, 0.009, 0.013,
    0.031, 0.027, 0.022, 0.027, 0.022, 0.027,  0.031, 0.035, 0.027, 0.034, 0.027, 0.029,
    0.0975, 0.078, 0.074, 0.080, 0.071, 0.081,  0.085, 0.084, 0.092, 0.080, 0.090, 0.082,
    0.0]

attn_bot = [
    0.050, 0.086, 0.079, 0.082, 0.080, 0.084,  0.0078, 0.039, 0.034, 0.039, 0.035, 0.039,
    0.0975, 0.077, 0.066, 0.071, 0.063, 0.080,  0.0078, 0.049, 0.042, 0.049, 0.042, 0.050,
    0.0078, 0.021, 0.014, 0.021, 0.014, 0.035,  0.0078, 0.012, 0.009, 0.014, 0.009, 0.013,
    0.0975, 0.088, 0.078, 0.088, 0.079, 0.086,  0.089, 0.082, 0.090, 0.081, 0.089, 0.091,
    0.0078, 0.013, 0.009, 0.012, 0.009, 0.012,  0.009, 0.012, 0.015, 0.009, 0.013, 0.009,
    0.0975, 0.051, 0.043, 0.052, 0.044, 0.060,  0.0078, 0.017, 0.011, 0.016, 0.011, 0.017,
    0.040, 0.030, 0.025, 0.031, 0.025, 0.031,  0.0975, 0.091, 0.0975, 0.088, 0.0975, 0.093,
    0.0078, 0.066, 0.059, 0.061, 0.056, 0.060,  0.0078, 0.039, 0.031, 0.039, 0.032, 0.038,
    0.0078, 0.023, 0.016, 0.023, 0.016, 0.023,  0.0975, 0.062, 0.056, 0.063, 0.056, 0.062,
    0.0078, 0.014, 0.010, 0.014, 0.010, 0.014,  0.0975, 0.049, 0.042, 0.049, 0.042, 0.048,
    0.0975, 0.083, 0.079, 0.084, 0.078, 0.086,  0.0078, 0.024, 0.018, 0.025, 0.018, 0.030,
    0.0975, 0.050, 0.044, 0.050, 0.043, 0.050,  0.050, 0.043, 0.050, 0.043, 0.049, 0.043,
    0.0975, 0.085, 0.079, 0.084, 0.080, 0.0975,  0.0078, 0.023, 0.017, 0.022, 0.017, 0.022,
    0.050, 0.038, 0.031, 0.038, 0.032, 0.039,  0.068, 0.053, 0.047, 0.052, 0.046, 0.054,
    0.0078, 0.014, 0.009, 0.014, 0.009, 0.013,  0.048, 0.033, 0.026, 0.033, 0.027, 0.032,
    0.034, 0.039, 0.032, 0.039, 0.032, 0.039,  0.0975, 0.091, 0.084, 0.091, 0.083, 0.093,
    0.0078, 0.015, 0.010, 0.015, 0.010, 0.014,  0.0975, 0.063, 0.055, 0.058, 0.049, 0.056,
    0.0078, 0.033, 0.027, 0.034, 0.027, 0.033,  0.0078, 0.013, 0.008, 0.013, 0.009, 0.012,
    0.032, 0.028, 0.021, 0.028, 0.022, 0.027,  0.030, 0.035, 0.028, 0.033, 0.027, 0.017,
    0.0975, 0.078, 0.073, 0.080, 0.072, 0.080,  0.083, 0.085, 0.079, 0.086, 0.083, 0.088,
    0.0]

narx_bot = [
    0.048, 0.089, 0.076, 0.083, 0.089, 0.080,  0.0078, 0.038, 0.037, 0.039, 0.034, 0.028,
    0.0975, 0.076, 0.068, 0.072, 0.061, 0.071,  0.0078, 0.048, 0.044, 0.047, 0.043, 0.057,
    0.0078, 0.030, 0.022, 0.025, 0.016, 0.030,  0.0078, 0.013, 0.009, 0.013, 0.009, 0.013,
    0.0975, 0.093, 0.080, 0.089, 0.079, 0.087,  0.090, 0.082, 0.091, 0.080, 0.091, 0.094,
    0.0078, 0.025, 0.015, 0.026, 0.014, 0.024,  0.016, 0.010, 0.015, 0.009, 0.014, 0.009,
    0.0975, 0.052, 0.044, 0.051, 0.044, 0.074,  0.0078, 0.025, 0.013, 0.017, 0.011, 0.017,
    0.040, 0.032, 0.024, 0.031, 0.025, 0.016,  0.0975, 0.092, 0.0975, 0.088, 0.0975, 0.093,
    0.0078, 0.067, 0.058, 0.062, 0.056, 0.060,  0.0078, 0.039, 0.032, 0.039, 0.031, 0.045,
    0.0078, 0.023, 0.017, 0.022, 0.016, 0.023,  0.0975, 0.063, 0.056, 0.064, 0.056, 0.064,
    0.0078, 0.017, 0.010, 0.014, 0.010, 0.014,  0.0975, 0.050, 0.043, 0.049, 0.042, 0.048,
    0.0975, 0.084, 0.079, 0.084, 0.077, 0.086,  0.0078, 0.025, 0.018, 0.025, 0.018, 0.025,
    0.0975, 0.050, 0.045, 0.049, 0.044, 0.049,  0.050, 0.043, 0.050, 0.043, 0.050, 0.042,
    0.0975, 0.087, 0.080, 0.085, 0.080, 0.0975,  0.0078, 0.032, 0.012, 0.021, 0.010, 0.023,
    0.045, 0.038, 0.031, 0.039, 0.031, 0.038,  0.066, 0.053, 0.046, 0.054, 0.046, 0.053,
    0.074, 0.022, 0.010, 0.014, 0.010, 0.013,  0.045, 0.033, 0.026, 0.033, 0.026, 0.033,
    0.034, 0.039, 0.032, 0.039, 0.032, 0.039,  0.0975, 0.091, 0.084, 0.092, 0.083, 0.094,
    0.0078, 0.015, 0.009, 0.015, 0.009, 0.015,  0.0975, 0.063, 0.054, 0.058, 0.050, 0.055,
    0.0078, 0.033, 0.028, 0.033, 0.026, 0.034,  0.040, 0.013, 0.022, 0.013, 0.009, 0.013,
    0.030, 0.028, 0.021, 0.028, 0.021, 0.028,  0.030, 0.036, 0.028, 0.033, 0.028, 0.018,
    0.0975, 0.079, 0.074, 0.080, 0.072, 0.079,  0.083, 0.085, 0.084, 0.090, 0.083, 0.088,
    0.0]

for arr in (pid_top, arx_top, pid_bot, arx_bot):
    assert len(arr) == len(days_4), len(arr)
for arr in (lstm_top, gru_top, attn_top, narx_top, lstm_bot, gru_bot, attn_bot, narx_bot):
    assert len(arr) == len(days_8), len(arr)
assert len(ref_levels) == len(ref_days)

# ---------------- styles ----------------
STYLE = {
    "Reference": dict(color="#8f8f8f", width=2, dash="9px,5px"),
    "LSTM": dict(color="#0072BD", width=2, dash="solid"),
    "GRU": dict(color="#D95319", width=2, dash="9px,5px"),
    "ATTN": dict(color="#A274D6", width=2, dash="2px,2px"),
    "NARX": dict(color="#E6194B", width=2, dash="8px,3px,2px,3px"),
    "ARX": dict(color="#009E73", width=2, dash="9px,5px"),
    "PID": dict(color="#000000", width=2, dash="2px,2px"),
    "Limits": dict(color="#5a5a5a", width=1, dash="8px,5px"),
}
FONT = "Liberation Sans, Arial, Helvetica, sans-serif"

# the page body adds an 8 px margin, so the figure is 8 px smaller than the window
FIG_W, FIG_H, OFF = 1225, 669, 8


def fx(px):
    return (px - OFF) / FIG_W


def fy(py):
    return 1 - (py - OFF) / FIG_H


fig = go.Figure()

# top panel
fig.add_trace(go.Scatter(x=ref_days, y=ref_levels, mode="lines", line_shape="hv",
                         name="Reference", line=STYLE["Reference"], xaxis="x", yaxis="y"))
top_series = [("LSTM", days_8, lstm_top), ("GRU", days_8, gru_top), ("ATTN", days_8, attn_top),
              ("NARX", days_8, narx_top), ("ARX", days_4, arx_top), ("PID", days_4, pid_top)]
for name, xs, ys in top_series:
    fig.add_trace(go.Scatter(x=xs, y=ys, mode="lines", name=name, line=STYLE[name],
                             xaxis="x", yaxis="y"))

# bottom panel
bot_series = [("LSTM", days_8, lstm_bot), ("GRU", days_8, gru_bot), ("ATTN", days_8, attn_bot),
              ("NARX", days_8, narx_bot), ("ARX", days_4, arx_bot), ("PID", days_4, pid_bot)]
for name, xs, ys in bot_series:
    fig.add_trace(go.Scatter(x=xs, y=ys, mode="lines", name=name, line=STYLE[name],
                             xaxis="x2", yaxis="y2"))
fig.add_trace(go.Scatter(x=[0, 2000, None, 0, 2000],
                         y=[limit_upper, limit_upper, None, limit_lower, limit_lower],
                         mode="lines", name="Limits", line=STYLE["Limits"],
                         xaxis="x2", yaxis="y2"))

axis_common = dict(showline=True, linecolor="#262626", linewidth=1, mirror=False,
                   ticks="inside", ticklen=11, tickcolor="#262626", tickwidth=1,
                   showgrid=True, gridcolor="#e4e4e4", gridwidth=1, zeroline=False,
                   automargin=False,
                   tickfont=dict(family=FONT, size=16, color="#262626"))
x_ticks = [0, 200, 400, 600, 800, 1000, 1200, 1400, 1600, 1800, 2000]

fig.update_layout(
    width=FIG_W, height=FIG_H,
    margin=dict(l=0, r=0, t=0, b=0, autoexpand=False),
    paper_bgcolor="white", plot_bgcolor="white",
    font=dict(family=FONT, color="#262626"),
    showlegend=False,
    xaxis=dict(domain=[fx(70.3), fx(1205)], range=[0, 2000], tickvals=x_ticks, anchor="y", **axis_common),
    yaxis=dict(domain=[fy(293.3), fy(31.7)], range=[0, 0.963], tickvals=[0, 0.2, 0.4, 0.6, 0.8],
               ticktext=["0", "0.2", "0.4", "0.6", "0.8"], anchor="x", **axis_common),
    xaxis2=dict(domain=[fx(79), fx(1205.3)], range=[0, 2000], tickvals=x_ticks, anchor="y2", **axis_common),
    yaxis2=dict(domain=[fy(630), fy(370)], range=[0, 0.1], tickvals=[0, 0.02, 0.04, 0.06, 0.08, 0.1],
                ticktext=["0", "0.02", "0.04", "0.06", "0.08", "0.1"], anchor="x2", **axis_common),
)

ann = [
    dict(text="<b>Plant Response Comparison for Each Controller</b>", x=fx(637), y=fy(18),
         font=dict(size=18, color="#000000")),
    dict(text="<b>Control Action Comparison</b>", x=fx(642), y=fy(356),
         font=dict(size=18, color="#000000")),
    dict(text="Time (days)", x=fx(637), y=fy(329), font=dict(size=18, color="#262626")),
    dict(text="Time (days)", x=fx(642), y=fy(665), font=dict(size=18, color="#262626")),
    dict(text="Methane Flow Rate [L h<sup>-1</sup>]", x=fx(25), y=fy(162), textangle=-90,
         font=dict(size=18, color="#262626")),
    dict(text="Influent Flow Rate [L h<sup>-1</sup>]", x=fx(25), y=fy(500), textangle=-90,
         font=dict(size=18, color="#262626")),
]
for a in ann:
    a.update(xanchor="center")

shapes = []


def draw_legend(names, box, line_x0, line_x1, text_x, row0, drow):
    left, top, right, bottom = box
    shapes.append(dict(type="rect", xref="paper", yref="paper", layer="above",
                       x0=fx(left), x1=fx(right), y0=fy(bottom), y1=fy(top),
                       fillcolor="white", line=dict(color="#262626", width=1)))
    for i, name in enumerate(names):
        yy = row0 + i * drow
        shapes.append(dict(type="line", xref="paper", yref="paper", layer="above",
                           x0=fx(line_x0), x1=fx(line_x1), y0=fy(yy), y1=fy(yy),
                           line=STYLE[name]))
        ann.append(dict(text=name, x=fx(text_x), y=fy(yy), xanchor="left",
                        font=dict(size=15, color="#000000")))


draw_legend(["Reference", "LSTM", "GRU", "ATTN", "NARX", "ARX", "PID"],
            (988, 30, 1127, 158), 997, 1047, 1051, 41, 17.6)
draw_legend(["LSTM", "GRU", "ATTN", "NARX", "ARX", "PID", "Limits"],
            (997, 388, 1105, 513), 1003, 1053, 1055, 398.5, 17.4)

for a in ann:
    a.update(xref="paper", yref="paper", showarrow=False, yanchor="middle")
    a["font"]["family"] = FONT
fig.update_layout(annotations=ann, shapes=shapes)

fig.write_html("out.html")
